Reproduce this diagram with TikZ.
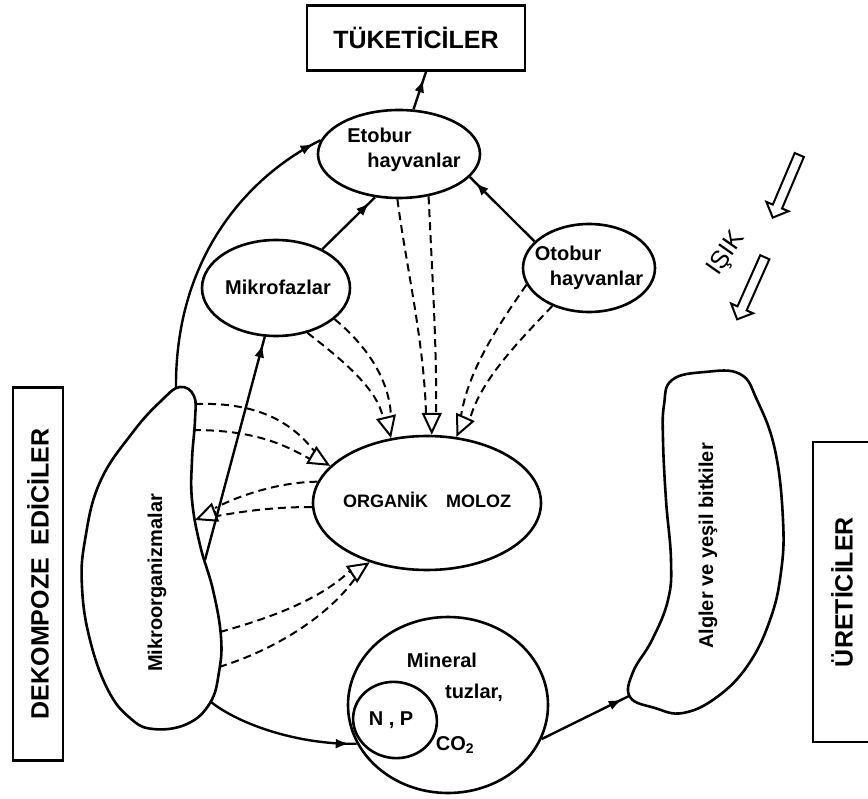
\documentclass[tikz,border=0pt]{standalone}
\usepackage{fontspec}
\setmainfont{Liberation Sans}
\usetikzlibrary{shapes.geometric,shapes.arrows,arrows.meta,decorations.markings,calc}

\tikzset{
  flow/.style={line width=2.4pt, postaction={decorate},
    decoration={markings, mark=at position -8pt with {\arrow{Latex[length=13pt,width=10pt]}}}},
  dline/.style={line width=2pt, dash pattern=on 8pt off 5pt},
  hollow/.style={line width=2pt, -{Triangle[open,length=22pt,width=20pt]}},
  blob/.style={draw, ellipse, line width=2.6pt, inner sep=0pt},
  lbl/.style={font=\fontsize{20}{25}\selectfont\bfseries},
  title/.style={draw, line width=2.6pt, font=\fontsize{25}{28}\selectfont\bfseries},
  sunarrow/.style={draw, single arrow, line width=2pt, inner sep=4pt,
    minimum height=68pt, single arrow head extend=7pt}
}

\begin{document}
\begin{tikzpicture}[x=1pt,y=-1pt]
        \useasboundingbox (0,0) rectangle (868,799);

        % boxes
        \node[title, minimum width=218pt, minimum height=65pt] (tuk) at (416,38) {TÜKETİCİLER};
        \node[title, rotate=90, minimum width=373pt, minimum height=50pt] (dek) at (38,574) {DEKOMPOZE\enspace EDİCİLER};
        \node[title, rotate=90, minimum width=300pt, minimum height=58pt] (ure) at (842,592) {ÜRETİCİLER};

        % ellipses
        \node[blob, minimum width=162pt, minimum height=88pt] (eto) at (399,154) {};
        \node[lbl, align=left] (etoT) at (404,150) {Etobur\\\hspace*{20pt}hayvanlar};
        \node[blob, minimum width=148pt, minimum height=96pt] (mfz) at (276,288) {};
        \node[lbl] (mfzT) at (278,287) {Mikrofazlar};
        \node[blob, minimum width=132pt, minimum height=88pt] (oto) at (589,268) {};
        \node[lbl, align=left] (otoT) at (589,268) {Otobur\\\hspace*{15pt}hayvanlar};
        \node[blob, minimum width=228pt, minimum height=134pt] (org) at (427,503) {};
        \node[lbl, font=\fontsize{18}{22}\selectfont\bfseries] (orgT) at (427,500) {ORGANİK\quad MOLOZ};
        \node[blob, minimum width=200pt, minimum height=176pt] (min) at (448,705) {};
        \node[blob, minimum width=84pt, minimum height=76pt, rotate=-10] (np) at (395,720) {};
        \node[lbl] (minT) at (442,660) {Mineral};
        \node[lbl] (tuzT) at (474,693) {tuzlar,};
        \node[lbl] (npT) at (391,720) {N , P};
        \node[lbl] (co2) at (455,745) {CO$_{\mathbf{2}}$};

        % Mikroorganizmalar
        \coordinate (mkoTop) at (176,388);
        \coordinate (mkoA) at (195,404);
        \coordinate (mkoB) at (193,430);
        \coordinate (mkoC) at (195,520);
        \coordinate (mkoD) at (205,560);
        \coordinate (mkoE) at (220,632);
        \coordinate (mkoF) at (219,667);
        \coordinate (mkoG) at (211,702);
        \draw[line width=2.6pt] plot[smooth cycle, tension=0.7] coordinates {
          (180,387) (194,396) (195,420) (192,460) (192,500) (200,545) (213,590)
          (221,637) (219,672) (210,703) (187,724) (153,729) (130,718) (108,690)
          (90,640) (82,587) (85,540) (100,482) (133,432) (162,400)};
        \node[lbl, rotate=90] (mkoT) at (157,583) {Mikroorganizmalar};

        % Algler
        \coordinate (algIn) at (629,696);
        \draw[line width=2.6pt] plot[smooth cycle, tension=0.7] coordinates {
          (672,380) (705,372) (740,374) (757,400) (775,450) (783,520) (781,572)
          (770,620) (748,665) (717,697) (683,713) (655,708) (630,697) (633,672)
          (652,640) (668,600) (671,560) (666,500) (663,440) (664,405)};
        \node[lbl, rotate=90] (algT) at (708,546) {Algler ve yeşil bitkiler};

        % light
        \node[sunarrow, rotate=-113] (sun1) at (787,184) {};
        \node[sunarrow, rotate=-114] (sun2) at (752,286) {};
        \node[font=\fontsize{25}{25}\selectfont, rotate=55, inner sep=0pt] (isik) at (727,254) {IŞIK};

        % solid arrows
        \draw[flow] (eto.72) -- ($(tuk.south)+(10,0)$);
        \draw[flow] (mkoTop) .. controls (175,255) and (250,175) .. (eto.170);
        \draw[flow] (mfz.40) -- (eto.-119);
        \draw[flow] (oto.154) -- (eto.-18);
        \draw[flow] (mkoD) -- (mfz.-103);
        \draw[flow] (mkoG) .. controls (240,725) and (300,745) .. (min.203);
        \draw[flow] (min.-20) -- (algIn);

        % dashed pairs
        \draw[dline] (eto.-92) .. controls (405,260) and (424,340) .. (426,414);
        \draw[dline] (eto.-55) .. controls (432,270) and (437,350) .. (436,414);
        \draw[hollow] ($(org.86)+(0,-22)$) -- (org.86);

        \draw[dline] (mfz.-55) .. controls (345,362) and (378,390) .. (383,418);
        \draw[dline] (mfz.-28) .. controls (372,350) and (390,385) .. (391,417);
        \draw[hollow] ($(org.119)+(-5,-21)$) -- (org.119);

        \draw[dline] (oto.-165) .. controls (495,330) and (468,372) .. (461,416);
        \draw[dline] (oto.-134) .. controls (515,345) and (480,382) .. (470,419);
        \draw[hollow] ($(org.66)+(9,-20)$) -- (org.66);

        \draw[dline] (mkoA) .. controls (255,402) and (290,420) .. (315,452);
        \draw[dline] (mkoB) .. controls (255,430) and (285,445) .. (310,459);
        \draw[hollow] ($(org.159)+(-19,-11)$) -- (org.159);

        \draw[dline] (org.169) .. controls (280,482) and (240,495) .. (215,508);
        \draw[dline] (org.182) .. controls (270,507) and (240,512) .. (217,516);
        \draw[hollow] ($(mkoC)+(21,-8)$) -- (mkoC);

        \draw[dline] (mkoE) .. controls (270,618) and (320,600) .. (351,570);
        \draw[dline] (mkoF) .. controls (275,650) and (330,615) .. (356,577);
        \draw[hollow] ($(org.226)+(-18,12)$) -- (org.226);
    \end{tikzpicture}
\end{document}
